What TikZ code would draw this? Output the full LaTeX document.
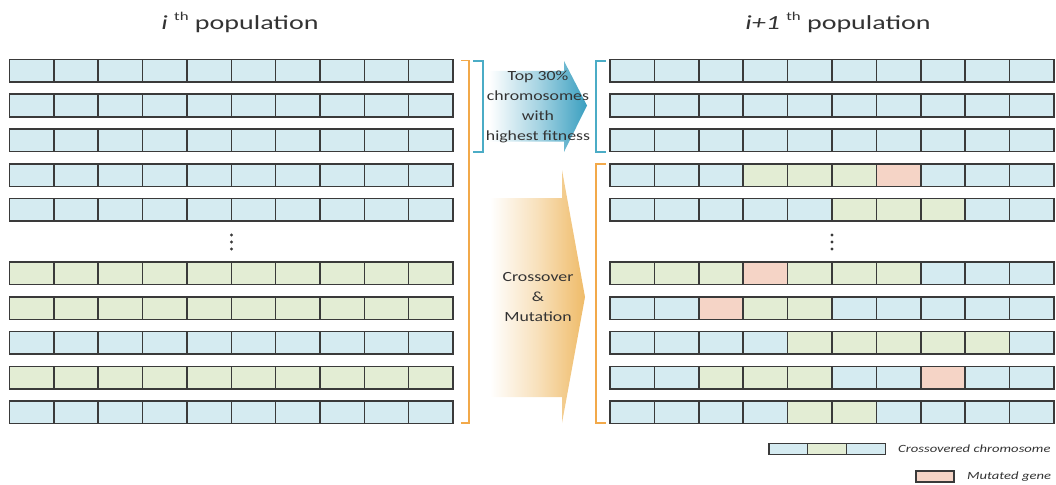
\documentclass[tikz,border=0pt]{standalone}
\usepackage{fontspec}
\setmainfont{Carlito}
\definecolor{cB}{HTML}{D5EBF1}
\definecolor{cG}{HTML}{E3EDD4}
\definecolor{cP}{HTML}{F5D4C6}
\definecolor{edgec}{HTML}{3A3A3A}
\definecolor{brB}{HTML}{4BACC6}
\definecolor{brO}{HTML}{F2A94A}
\definecolor{arB}{HTML}{3A9FC0}
\definecolor{arO}{HTML}{EFBB68}
\definecolor{txt}{HTML}{333333}
\newcommand{\wide}[2][1.33]{\scalebox{#1}[1]{#2}}
\begin{document}
\begin{tikzpicture}[x=1pt,y=-1pt,
  cell/.style={draw=edgec, line width=1.5pt, minimum width=44.35pt, minimum height=22.5pt, inner sep=0pt, outer sep=0pt},
  legcell/.style={draw=edgec, line width=1.2pt, minimum width=38.7pt, minimum height=11.5pt, inner sep=0pt, outer sep=0pt},
  bracketB/.style={draw=brB, line width=1.2pt},
  bracketO/.style={draw=brO, line width=1.2pt},
  title/.style={font=\fontsize{20}{24}\selectfont, text=txt, inner sep=0pt},
  midtext/.style={font=\fontsize{14}{20}\selectfont, text=txt, align=center, inner sep=0pt},
  legtext/.style={font=\fontsize{11}{13}\selectfont\itshape, text=txt, anchor=west, inner sep=0pt},
  dotc/.style={fill=edgec, draw=none}]
\useasboundingbox (0,0) rectangle (1056,484);
% titles
\node[title] (tL) at (240,22) {\wide[1.4]{\textit{i} \raisebox{0.45em}{\fontsize{12}{12}\selectfont th} population}};
\node[title] (tR) at (838,22) {\wide[1.4]{\textit{i+1} \raisebox{0.45em}{\fontsize{12}{12}\selectfont th} population}};
% left population
\foreach \r/\yy/\pat in {
 0/70.75/{B,B,B,B,B,B,B,B,B,B},
 1/105.5/{B,B,B,B,B,B,B,B,B,B},
 2/140.25/{B,B,B,B,B,B,B,B,B,B},
 3/175.0/{B,B,B,B,B,B,B,B,B,B},
 4/209.75/{B,B,B,B,B,B,B,B,B,B},
 5/273.25/{G,G,G,G,G,G,G,G,G,G},
 6/308.0/{G,G,G,G,G,G,G,G,G,G},
 7/342.75/{B,B,B,B,B,B,B,B,B,B},
 8/377.5/{G,G,G,G,G,G,G,G,G,G},
 9/412.25/{B,B,B,B,B,B,B,B,B,B}}{
  \foreach \c [count=\i] in \pat {
    \node[cell, fill=c\c] (L\r-\i) at ({9.5+44.35*(\i-0.5)}, \yy) {};
  }
}
% right population
\foreach \r/\yy/\pat in {
 0/70.75/{B,B,B,B,B,B,B,B,B,B},
 1/105.5/{B,B,B,B,B,B,B,B,B,B},
 2/140.25/{B,B,B,B,B,B,B,B,B,B},
 3/175.0/{B,B,B,G,G,G,P,B,B,B},
 4/209.75/{B,B,B,B,B,G,G,G,B,B},
 5/273.25/{G,G,G,P,G,G,G,B,B,B},
 6/308.0/{B,B,P,G,G,B,B,B,B,B},
 7/342.75/{B,B,B,B,G,G,G,G,G,B},
 8/377.5/{B,B,G,G,G,B,B,P,B,B},
 9/412.25/{B,B,B,B,G,G,B,B,B,B}}{
  \foreach \c [count=\i] in \pat {
    \node[cell, fill=c\c] (R\r-\i) at ({610+44.4*(\i-0.5)}, \yy) {};
  }
}
% ellipsis dots
\foreach \yy [count=\k] in {235,242,249}{
  \fill[dotc] (231.5,\yy) circle (1.7pt);
  \fill[dotc] (832,\yy) circle (1.7pt);
}
% brackets
\draw[bracketO] (461,60.7) -- (469,60.7) -- (469,423) -- (461,423);
\draw[bracketB] (473,61) -- (483,61) -- (483,152) -- (473,152);
\draw[bracketB] (606,61) -- (596,61) -- (596,152) -- (606,152);
\draw[bracketO] (606,164) -- (596,164) -- (596,423) -- (606,423);
% arrows
\shade[left color=white, right color=arB, middle color=arB!45, shading=axis]
  (489,71) -- (564,71) -- (564,61) -- (587,105.5) -- (564,152) -- (564,141.5) -- (489,141.5) -- cycle;
\shade[left color=white, right color=arO, middle color=arO!45, shading=axis]
  (490,198) -- (562,198) -- (562,170) -- (585,297) -- (562,423) -- (562,397) -- (490,397) -- cycle;
\node[midtext] (top) at (538,106.5) {\wide[1.27]{\begin{tabular}{@{}c@{}}Top 30\%\\chromosomes\\with\\highest fitness\end{tabular}}};
\node[midtext] (cm) at (538,297.5) {\wide[1.27]{\begin{tabular}{@{}c@{}}Crossover\\\&\\Mutation\end{tabular}}};
% legend
\node[legcell, fill=cB] (lg1) at (788.4,449) {};
\node[legcell, fill=cG] (lg2) at (827.1,449) {};
\node[legcell, fill=cB] (lg3) at (865.8,449) {};
\node[legtext] (lgt1) at (898,449) {\wide{Crossovered chromosome}};
\node[legcell, fill=cP, minimum width=38pt, minimum height=11pt] (lgp) at (935,476.5) {};
\node[legtext] (lgt2) at (967,476.5) {\wide{Mutated gene}};
\end{tikzpicture}
\end{document}
